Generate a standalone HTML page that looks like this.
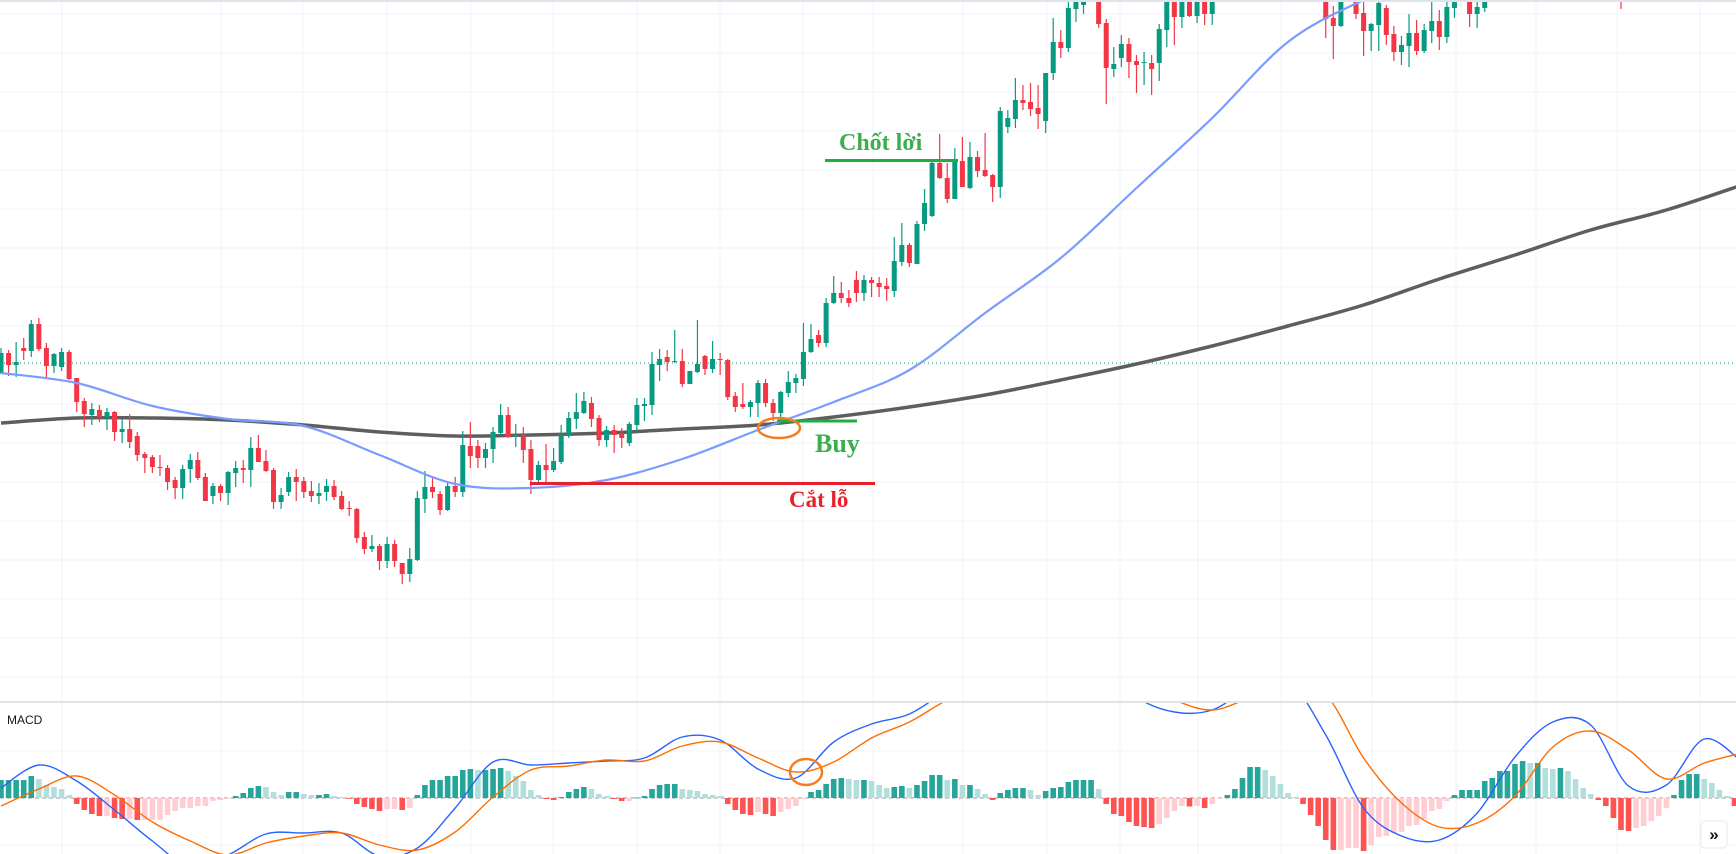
<!DOCTYPE html>
<html>
<head>
<meta charset="utf-8">
<style>
  html,body{margin:0;padding:0;background:#fff;}
  svg{display:block;}
  text{font-family:"Liberation Sans","Noto Sans CJK SC",sans-serif;}
  .ann{font-family:"Liberation Serif",serif;font-weight:bold;}
</style>
</head>
<body>
<svg id="chart" width="1736" height="854" viewBox="0 0 1736 854" xmlns="http://www.w3.org/2000/svg">
  <defs>
    <clipPath id="mainClip"><rect x="0" y="2" width="1736" height="698"/></clipPath>
    <clipPath id="macdClip"><rect x="0" y="703" width="1736" height="151"/></clipPath>
  </defs>
  <rect x="0" y="0" width="1736" height="854" fill="#ffffff"/>
  <g id="grid"></g>
  <line x1="0" y1="1" x2="1736" y2="1" stroke="#e0e3eb" stroke-width="2"/>
  <g id="mainPane" clip-path="url(#mainClip)"></g>
  <line x1="0" y1="702" x2="1736" y2="702" stroke="#e0e3eb" stroke-width="2"/>
  <g id="macdPane" clip-path="url(#macdClip)"></g>
  <text x="7" y="724" font-size="12" fill="#131722">MACD</text>

  <!-- annotations -->
  <g>
    <line x1="825" y1="160.5" x2="958" y2="160.5" stroke="#22ab45" stroke-width="3"/>
    <text class="ann" x="839" y="150" font-size="24" fill="#3cae4f">Chốt lời</text>
    <line x1="777" y1="421" x2="857" y2="421" stroke="#22ab45" stroke-width="3"/>
    <ellipse cx="779" cy="428" rx="21" ry="10" fill="none" stroke="#f57c1f" stroke-width="2.5"/>
    <text class="ann" x="815" y="452" font-size="26" fill="#3cae4f">Buy</text>
    <line x1="530" y1="483.5" x2="875" y2="483.5" stroke="#e8202a" stroke-width="3"/>
    <text class="ann" x="789" y="507" font-size="23" fill="#e8202a">Cắt lỗ</text>
    <ellipse cx="806" cy="772" rx="16" ry="13" fill="none" stroke="#f57c1f" stroke-width="2.5"/>
  </g>

  <g>
    <rect x="1701" y="821" width="26" height="27" rx="4" fill="#ffffff" stroke="#e6e8ee" stroke-width="1"/>
    <text x="1714" y="840" font-size="17" text-anchor="middle" fill="#131722" font-weight="bold">»</text>
  </g>
</svg>

<script>
const opens=[627,647,635,652,649,676,652,634,633,648,622,599,585,590,583,588,568,571,564,546,543,533,532,520,512,531,540,523,504,514,507,527,532,530,552,539,530,498,508,523,519,509,504,508,514,504,492,491,463,451,454,439,456,437,426,440,501,513,506,490,514,508,554,554,542,551,567,585,563,565,551,520,535,530,538,565,581,587,597,582,560,570,567,557,575,594,595,635,643,638,639,616,628,644,631,641,640,604,596,593,597,617,597,587,607,617,621,648,665,657,697,707,702,720,707,720,717,714,709,738,755,736,776,784,837,822,801,839,812,843,830,825,813,873,881,900,898,892,879,927,958,952,991,995,1012,1010,977,931,942,956,939,937,937,937,970,1015,983,1008,984,998,986,1008,1018,1010,1030,1040,1028,1045,1035,1018,1030,1015,1008,1025,1012,1010,982,974,1010,1012,987,969,975,992,966,948,954,967,949,969,979,963,992,1015,1005,986,992,1010,1006,1022,1015,1032,1025,1040,1035,1025,1030,1018,1012,1020,1014,1008,1015,1010,1015,1002,1012,1025,1035,1030,1042,1050,1045,1055,1065,1058,1068,1075,1065,1080];
const highs=[652,650,658,662,680,682,657,647,652,650,622,602,597,595,592,589,581,586,568,548,545,545,535,523,535,546,548,527,517,516,529,539,540,563,565,550,532,512,528,531,523,519,517,521,520,509,499,492,468,465,456,463,460,437,452,509,529,523,509,517,523,569,578,560,557,573,596,593,576,573,560,539,556,552,575,588,607,608,603,585,574,575,572,578,602,602,648,651,650,670,651,629,680,645,659,647,641,608,617,600,620,621,601,609,629,626,677,676,670,702,724,718,710,729,725,723,723,722,763,777,757,779,811,838,866,837,852,863,858,849,867,826,893,890,922,915,917,915,927,982,970,1005,1020,1015,1030,1015,981,953,965,962,945,948,945,976,1020,1020,1015,1012,1005,1003,1010,1025,1028,1035,1045,1048,1050,1055,1040,1038,1036,1022,1030,1032,1028,1020,994,1020,1025,1018,1005,977,1000,995,974,964,986,980,976,1002,990,1002,1010,1025,1010,1008,1010,1020,1025,1030,1035,1040,1045,1050,1042,1038,1036,1026,1022,1028,1020,1018,1022,1016,1025,1020,1030,1040,1048,1045,1055,1060,1058,1070,1075,1072,1080,1082,1085,1090];
const lows=[626,624,623,640,643,649,623,627,629,620,588,573,575,578,570,559,557,552,539,527,527,524,510,501,501,517,520,499,496,499,495,513,517,513,538,528,491,491,504,499,502,498,496,499,500,490,484,457,446,448,430,432,433,416,418,439,487,502,485,489,503,503,532,532,532,537,565,562,553,537,506,515,518,528,536,562,571,586,573,554,553,547,552,554,569,579,585,619,629,637,613,616,627,625,627,625,600,588,591,583,583,593,579,575,603,607,614,647,653,653,696,697,693,698,699,703,703,699,703,734,733,736,769,783,821,797,801,813,811,823,823,798,802,867,872,890,884,871,867,920,942,948,978,986,1006,972,896,923,933,922,907,915,905,919,953,955,972,983,977,975,975,1003,1006,1006,1025,1020,1022,1030,1012,1010,1008,1004,1005,1006,1004,962,941,973,1004,981,944,949,949,955,939,935,933,945,947,957,950,957,982,1004,973,972,988,1003,1004,1010,1012,1020,1020,1030,1020,1015,1012,1008,1006,1010,1005,1004,1006,1004,991,1001,1008,1020,1025,1022,1035,1038,1035,1048,1050,1050,1060,1060,1060,1070];
const closes=[647,635,638,649,676,651,634,646,648,621,598,586,591,583,588,568,571,558,545,542,533,532,518,512,531,540,522,499,514,507,528,532,530,552,538,529,498,505,523,518,508,504,507,514,503,491,491,462,451,454,439,456,439,426,441,502,513,508,490,514,508,555,544,542,551,568,585,563,565,550,520,535,530,539,565,582,588,599,581,560,570,565,562,576,595,596,636,641,638,639,616,629,636,631,641,640,603,593,593,598,617,597,587,608,618,622,648,661,657,697,707,702,697,707,720,717,713,711,739,755,737,776,797,837,822,801,840,813,843,829,824,813,889,882,900,897,891,886,927,958,952,992,1012,1008,1020,976,932,936,956,938,935,938,931,971,1010,983,1010,984,998,986,1005,1018,1010,1030,1040,1028,1045,1035,1018,1030,1015,1008,1025,1012,1020,981,974,1010,1018,986,969,976,997,965,948,955,967,949,970,979,963,993,1005,1008,986,993,1005,1006,1022,1015,1032,1025,1040,1035,1025,1030,1018,1012,1020,1014,1008,1015,1010,1006,998,1012,1025,1035,1030,1042,1050,1045,1055,1065,1058,1068,1075,1065,1080,1085];
const ma50=[627,617,594,581,574,545,516,512,520,541,570,598,630,687,742,812,882,958,1000,1030,1060,1090,1120,1150];
const ma200=[577,582,582,580,575,568,564,565,567,571,575,583,593,605,620,636,654,674,695,721,745,770,790,815];
const hist=[1.8,1.8,1.8,1.8,2.2,1.9,1.3,1.1,0.9,0.3,
-0.6,-1.2,-1.6,-1.8,-1.8,-2.0,-2.1,-2.1,-2.2,-2.2,-2.2,-2.2,-1.7,-1.3,-1.0,-1.0,-0.8,-0.8,-0.3,-0.2,-0.1,
0.2,0.5,1.0,1.2,1.1,0.6,0.3,0.6,0.6,0.4,0.3,0.3,0.4,0.2,0.1,
-0.05,-0.6,-0.9,-1.1,-1.3,-1.1,-1.1,-1.2,-1.0,
0.3,1.3,1.8,1.8,2.2,2.2,2.8,2.9,2.8,2.8,2.9,3.0,2.7,2.2,1.7,0.8,0.3,
-0.1,-0.2,
0.1,0.6,0.9,
1.1,0.9,0.4,0.2,-0.1,-0.3,-0.3,0.05,0.2,0.9,1.3,1.4,1.4,0.9,0.8,0.7,0.4,0.3,0.2,-0.6,-1.2,-1.6,-1.7,-1.4,-1.6,-1.8,-1.4,-1.1,-0.8,-0.1,0.6,0.8,1.4,1.9,2.0,1.9,1.8,1.8,1.7,1.3,1.0,1.1,1.2,1.0,1.3,1.7,2.3,2.3,1.8,1.9,1.3,1.3,0.9,0.4,-0.2,0.5,0.8,1.0,1.0,0.8,0.3,0.7,1.0,1.1,1.6,1.8,1.8,1.8,0.9,-0.6,-1.6,-1.8,-2.4,-2.8,-2.9,-3.0,-2.6,-2.0,-1.3,
-0.8,-0.85,-0.8,-1.0,-0.6,-0.05,0.3,0.9,2.0,3.1,3.1,2.8,2.2,1.4,0.5,0.1,-0.6,-1.7,-2.8,-4.2,-5.2,-5.2,-5.0,-5.0,-5.3,-4.7,-3.9,-3.8,-3.5,-3.4,-2.8,-2.7,-2.1,-1.3,-1.1,-0.3,0.3,0.8,0.8,0.8,1.7,2.0,2.7,2.7,3.4,3.7,3.5,3.5,3.0,2.9,3.0,2.7,1.9,1.0,0.4,-0.2,-0.8,-2.0,-3.2,-3.3,-3.0,-2.8,-2.3,-1.8,-1.0,0.3,1.8,2.4,2.4,1.9,1.5,0.8,0.2,-0.8];
const macdLine=[1.0,3.3,1.7,-1.2,-4.3,-6.9,-5.7,-3.6,-3.5,-3.5,-5.8,-5.0,-1.0,3.6,3.3,3.5,3.7,4.0,6.1,5.8,2.9,2.0,5.6,7.4,8.4,10.8,13.3,14.6,15.0,13.8,10.1,8.6,8.8,11.0,11.8,6.3,-1.0,-3.8,-4.2,-1.5,4.1,7.6,7.3,1.2,1.3,5.9,3.6];
const signalLine=[-0.8,0.9,2.2,0.3,-2.4,-4.3,-5.7,-4.5,-3.8,-3.5,-4.7,-5.2,-3.4,0.1,2.8,3.2,3.8,3.7,5.2,5.6,4.0,2.6,3.6,6.0,7.6,9.8,11.3,12.2,12.8,12.6,11.8,9.8,8.8,10.0,11.0,10.3,4.0,-0.5,-2.9,-2.5,0.2,5.1,6.7,4.8,1.9,3.5,4.5];
const lastPrice=637;
const vGrid=[62,221,303,387,471,553,637,720,803,873,963,1047,1120,1198,1281,1372,1456,1536,1617,1700];

const NS='http://www.w3.org/2000/svg';
const SPACING=7.57, X0=1, PRICE_TOP=1000, MACD_ZERO=798, MACD_K=10;
function xOf(i){return X0+SPACING*i;}
function yPrice(p){return PRICE_TOP-p;}
function yMacd(v){return MACD_ZERO-v*MACD_K;}
function mk(tag,attrs,parent){const e=document.createElementNS(NS,tag);for(const k in attrs)e.setAttribute(k,attrs[k]);parent.appendChild(e);return e;}
function smooth(pts){
  let d='M'+pts[0][0].toFixed(1)+','+pts[0][1].toFixed(1);
  for(let i=0;i<pts.length-1;i++){
    const p0=pts[i-1]||pts[i],p1=pts[i],p2=pts[i+1],p3=pts[i+2]||p2;
    const c1x=p1[0]+(p2[0]-p0[0])/6,c1y=p1[1]+(p2[1]-p0[1])/6;
    const c2x=p2[0]-(p3[0]-p1[0])/6,c2y=p2[1]-(p3[1]-p1[1])/6;
    d+=' C'+c1x.toFixed(1)+','+c1y.toFixed(1)+' '+c2x.toFixed(1)+','+c2y.toFixed(1)+' '+p2[0].toFixed(1)+','+p2[1].toFixed(1);
  }
  return d;
}

const grid=document.getElementById('grid');
for(let k=0;k<18;k++){
  const y=14+39*k;
  const l=mk('line',{x1:0,x2:1736,y1:y,y2:y,stroke:'#f0f3fa','stroke-width':1},grid);
  
  
}
[751,845].forEach(y=>{
  const l=mk('line',{x1:0,x2:1736,y1:y,y2:y,stroke:'#f0f3fa','stroke-width':1},grid);
  
  
});
vGrid.forEach(x=>{
  const l=mk('line',{x1:x,x2:x,y1:0,y2:854,stroke:'#f0f3fa','stroke-width':1},grid);
  
  
});

const main=document.getElementById('mainPane');
const dl=mk('line',{x1:0,x2:1736,y1:yPrice(lastPrice),y2:yPrice(lastPrice),stroke:'#089981','stroke-width':1,'stroke-dasharray':'1 3'},main);



const ma200Path=mk('path',{d:smooth(ma200.map((v,k)=>[xOf(k*10),yPrice(v)])),fill:'none',stroke:'#555555','stroke-width':3.5,opacity:0.95},main);



const candles=mk('g',{},main);


for(let i=0;i<opens.length;i++){
  const up=closes[i]>=opens[i];
  const col=up?'#089981':'#f23645';
  const g=mk('g',{},candles);
  
  
  const x=xOf(i);
  mk('line',{x1:x,x2:x,y1:yPrice(highs[i]),y2:yPrice(lows[i]),stroke:col,'stroke-width':1.2},g);
  const top=yPrice(Math.max(opens[i],closes[i])),bot=yPrice(Math.min(opens[i],closes[i]));
  mk('rect',{x:x-2.5,y:top,width:5,height:Math.max(1,bot-top),fill:col},g);
}

const ma50Path=mk('path',{d:smooth(ma50.map((v,k)=>[xOf(k*10),yPrice(v)])),fill:'none',stroke:'#7b9cff','stroke-width':2.2},main);



const macd=document.getElementById('macdPane');
const zl=mk('line',{x1:0,x2:1736,y1:MACD_ZERO,y2:MACD_ZERO,stroke:'#9598a1','stroke-width':1,'stroke-dasharray':'4 3'},macd);


for(let i=0;i<hist.length;i++){
  const v=hist[i],prev=i>0?hist[i-1]:v;
  let col;
  if(v>=0)col=v>=prev?'#26a69a':'#b2dfdb';else col=v<prev?'#ff5252':'#ffcdd2';
  const y1=yMacd(Math.max(v,0)),y2=yMacd(Math.min(v,0));
  const r=mk('rect',{x:xOf(i)-2.8,y:y1,width:5.6,height:Math.max(0.8,y2-y1),fill:col},macd);
  
  
}
const mp=mk('path',{d:smooth(macdLine.map((v,k)=>[xOf(k*5),yMacd(v)])),fill:'none',stroke:'#2962ff','stroke-width':1.4},macd);


const sp=mk('path',{d:smooth(signalLine.map((v,k)=>[xOf(k*5),yMacd(v)])),fill:'none',stroke:'#ff6d00','stroke-width':1.4},macd);


</script>
</body>
</html>
